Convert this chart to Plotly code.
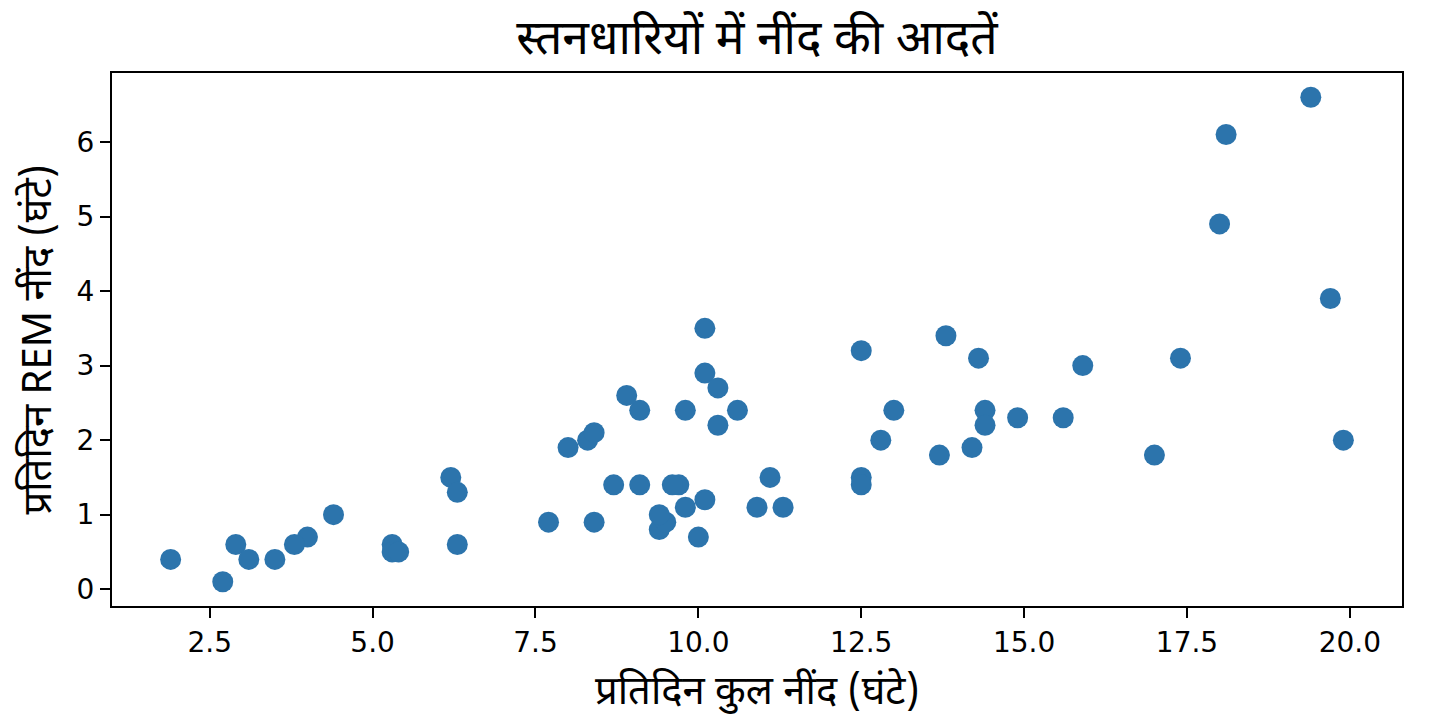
import plotly.graph_objects as go

# msleep data: total sleep vs REM sleep (hours per day), NA rows dropped
sleep_total = [17.0, 14.4, 14.9, 4.0, 14.4, 8.7, 10.1, 5.3, 9.4, 10.0,
               12.5, 10.3, 8.3, 9.1, 17.4, 5.3, 18.0, 19.7, 2.9, 3.1,
               10.1, 10.9, 12.5, 9.8, 1.9, 2.7, 6.2, 6.3, 8.0, 9.5,
               19.4, 10.1, 14.2, 14.3, 12.5, 19.9, 7.7, 8.4, 3.8, 9.7,
               9.4, 10.3, 13.7, 3.5, 11.1, 18.1, 5.4, 13.0, 9.6, 8.4,
               11.3, 10.6, 13.8, 15.9, 12.8, 9.1, 4.4, 15.6, 8.9, 6.3,
               9.8]
sleep_rem = [1.8, 2.4, 2.3, 0.7, 2.2, 1.4, 2.9, 0.6, 0.8, 0.7,
             1.5, 2.2, 2.0, 1.4, 3.1, 0.5, 4.9, 3.9, 0.6, 0.4,
             3.5, 1.1, 3.2, 1.1, 0.4, 0.1, 1.5, 0.6, 1.9, 0.9,
             6.6, 1.2, 1.9, 3.1, 1.4, 2.0, 0.9, 0.9, 0.6, 1.4,
             1.0, 2.7, 1.8, 0.4, 1.5, 6.1, 0.5, 2.4, 1.4, 2.1,
             1.1, 2.4, 3.4, 3.0, 2.0, 2.4, 1.0, 2.3, 2.6, 1.3,
             2.4]

x_ticks = [2.5, 5.0, 7.5, 10.0, 12.5, 15.0, 17.5, 20.0]
x_ticktext = ["2.5", "5.0", "7.5", "10.0", "12.5", "15.0", "17.5", "20.0"]
y_ticks = [0, 1, 2, 3, 4, 5, 6]

title_text = "स्तनधारियों में नींद की आदतें"
xlabel = "प्रतिदिन कुल नींद (घंटे)"
ylabel = "प्रतिदिन REM नींद (घंटे)"

hindi_font = "Noto Sans Devanagari, Lohit Devanagari, Noto Sans, DejaVu Sans, sans-serif"
tick_font = dict(family="DejaVu Sans", size=28, color="black")

fig = go.Figure(data=[go.Scatter(
    x=sleep_total, y=sleep_rem, mode="markers",
    marker=dict(size=21, color="rgb(44,116,172)", line=dict(width=0)),
    hoverinfo="x+y")])

axis_common = dict(showline=True, mirror=True, linecolor="black", linewidth=2,
                   ticks="outside", ticklen=10, tickwidth=2, tickcolor="black",
                   showgrid=False, zeroline=False, tickfont=tick_font)

# page body has an 8px margin, so the margins below are offset by that amount
fig.update_layout(
    width=1449, height=720,
    margin=dict(l=104, r=55, t=65, b=122),
    paper_bgcolor="white", plot_bgcolor="white",
    showlegend=False,
    title=dict(text=title_text, x=0.5, xref="paper", xanchor="center",
               y=1 - 29 / 720, yref="container", yanchor="middle",
               font=dict(family=hindi_font, size=48, color="black")),
    xaxis=dict(range=[1.0, 20.8], tickvals=x_ticks, ticktext=x_ticktext, **axis_common),
    yaxis=dict(range=[-0.225, 6.925], tickvals=y_ticks, **axis_common),
    annotations=[
        dict(text=xlabel, x=0.5, y=0, xref="paper", yref="paper",
             xanchor="center", yanchor="middle", yshift=-88, showarrow=False,
             font=dict(family=hindi_font, size=40, color="black")),
        dict(text=ylabel, x=0, y=0.5, xref="paper", yref="paper",
             xanchor="center", yanchor="middle", xshift=-72, textangle=-90,
             showarrow=False,
             font=dict(family=hindi_font, size=40, color="black")),
    ],
)

fig.write_html("out.html")
